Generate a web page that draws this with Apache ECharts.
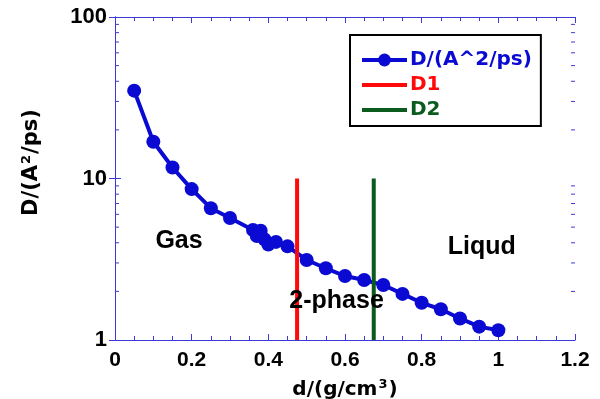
<!DOCTYPE html>
<html>
<head>
<meta charset="utf-8">
<script src="https://cdn.jsdelivr.net/npm/echarts@6/dist/echarts.min.js"></script>
<style>
  html, body { margin: 0; padding: 0; background: #fff; }
  #chart { width: 600px; height: 399px; }
</style>
</head>
<body>
<div id="chart"></div>
<script>
// Density (g/cm^3) and diffusion coefficient D (A^2/ps)
const density = [0.05, 0.10, 0.15, 0.20, 0.25, 0.30, 0.36, 0.37, 0.38, 0.39, 0.40, 0.42, 0.45,
                 0.50, 0.55, 0.60, 0.65, 0.70, 0.75, 0.80, 0.85, 0.90, 0.95, 1.00];
const diffusion = [35.0, 16.9, 11.7, 8.6, 6.55, 5.7, 4.8, 4.4, 4.75, 4.2, 3.9, 4.05, 3.8,
                   3.13, 2.78, 2.49, 2.35, 2.19, 1.93, 1.70, 1.55, 1.36, 1.21, 1.15];

// Phase boundaries
const d1X = 0.475;
const d2X = 0.675;
const boundaryRange = [1, 10];

// Region labels: [x, y, text]
const regionLabels = [
  [0.167, 4.1, 'Gas'],
  [0.957, 3.77, 'Liqud'],
  [0.578, 1.74, '2-phase']
];

const seriesNames = ['D/(A^2/ps)', 'D1', 'D2'];
const xTicks = { min: 0, max: 1.2, step: 0.2 };
const yTicks = { min: 1, max: 100 };
const yMinorTicks = [2, 3, 4, 5, 6, 7, 8, 9, 20, 30, 40, 50, 60, 70, 80, 90];

const BLUE = '#0a0ad2';
const RED = '#ff0a0a';
const GREEN = '#0b5a1e';
const AXIS = '#3a3ad8';
const LABEL_FONT = '"Liberation Sans", Arial, sans-serif';
const NAME_FONT = '"DejaVu Sans", sans-serif';

const chart = echarts.init(document.getElementById('chart'), null, { renderer: 'canvas' });

const xAxisBase = {
  type: 'value', min: xTicks.min, max: xTicks.max, interval: xTicks.step,
  axisLine: { show: true, lineStyle: { color: AXIS, width: 1 } },
  axisTick: { show: true, inside: true, length: 6, lineStyle: { color: AXIS } },
  minorTick: { show: true, splitNumber: 4, length: 4, lineStyle: { color: AXIS } },
  splitLine: { show: false }
};
const yAxisBase = {
  type: 'log', logBase: 10, min: yTicks.min, max: yTicks.max,
  axisLine: { show: true, lineStyle: { color: AXIS, width: 1 } },
  axisTick: { show: true, inside: true, length: 6, lineStyle: { color: AXIS } },
  splitLine: { show: false }
};

chart.setOption({
  animation: false,
  backgroundColor: '#fff',
  grid: { left: 115, right: 25, top: 17, bottom: 59, containLabel: false, outerBoundsMode: 'none' },
  legend: {
    orient: 'vertical', left: 350, top: 35,
    data: [
      { name: seriesNames[0], textStyle: { color: BLUE } },
      { name: seriesNames[1], itemStyle: { opacity: 0 }, textStyle: { color: RED } },
      { name: seriesNames[2], itemStyle: { opacity: 0 }, textStyle: { color: GREEN } }
    ],
    itemWidth: 45, itemHeight: 16, itemGap: 5,
    padding: [15, 9, 6, 10],
    borderColor: '#000', borderWidth: 2,
    lineStyle: { width: 4 },
    textStyle: { fontFamily: NAME_FONT, fontWeight: 'bold', fontSize: 20, lineHeight: 20, padding: [0, 0, 0, -2] }
  },
  xAxis: [
    Object.assign({}, xAxisBase, {
      position: 'bottom',
      axisLabel: { color: '#000', fontFamily: LABEL_FONT, fontWeight: 'bold', fontSize: 21, margin: 10 },
      name: '{b|d/(g/cm}{s|3}{b|)}',
      nameLocation: 'middle', nameGap: 38,
      nameTextStyle: {
        rich: {
          b: { fontFamily: NAME_FONT, fontWeight: 'bold', fontSize: 20, color: '#000' },
          s: { fontFamily: NAME_FONT, fontWeight: 'bold', fontSize: 13, color: '#000', padding: [0, 1, 10, 1] }
        }
      }
    }),
    Object.assign({}, xAxisBase, { position: 'top', axisLabel: { show: false } })
  ],
  yAxis: [
    Object.assign({}, yAxisBase, {
      position: 'left',
      axisLabel: { color: '#000', fontFamily: LABEL_FONT, fontWeight: 'bold', fontSize: 22, margin: 8 },
      name: '{b|D/(A}{s|2}{b|/ps)}',
      nameLocation: 'middle', nameGap: 72, nameRotate: 90,
      nameTextStyle: {
        padding: [0, 0, 0, 32],
        rich: {
          b: { fontFamily: NAME_FONT, fontWeight: 'bold', fontSize: 21, color: '#000' },
          s: { fontFamily: NAME_FONT, fontWeight: 'bold', fontSize: 13, color: '#000', padding: [0, 1, 10, 1] }
        }
      }
    }),
    Object.assign({}, yAxisBase, { position: 'right', axisLabel: { show: false } })
  ],
  series: [
    {
      name: seriesNames[0], type: 'line',
      data: density.map((x, i) => [x, diffusion[i]]),
      symbol: 'circle', symbolSize: 14,
      lineStyle: { color: BLUE, width: 4 },
      itemStyle: { color: BLUE },
      z: 2
    },
    {
      name: seriesNames[1], type: 'line', symbol: 'none',
      data: boundaryRange.map(v => [d1X, v]),
      lineStyle: { color: RED, width: 4 }, itemStyle: { color: RED }, z: 3
    },
    {
      name: seriesNames[2], type: 'line', symbol: 'none',
      data: boundaryRange.map(v => [d2X, v]),
      lineStyle: { color: GREEN, width: 4 }, itemStyle: { color: GREEN }, z: 3
    },
    {
      // Region names placed in data coordinates
      name: 'regions', type: 'scatter', symbolSize: 0, silent: true,
      itemStyle: { opacity: 1 },
      data: regionLabels.map(r => ({ value: [r[0], r[1]], name: r[2] })),
      label: {
        show: true, position: 'inside', formatter: p => p.name, opacity: 1,
        color: '#000', fontFamily: LABEL_FONT, fontWeight: 'bold', fontSize: 25
      },
      z: 4
    },
    {
      // Minor log ticks at 2..9 on left and right frames
      name: 'yMinor', type: 'custom', silent: true, clip: false,
      data: yMinorTicks,
      renderItem: (params, api) => {
        const v = api.value(0);
        const l = api.coord([xTicks.min, v]);
        const r = api.coord([xTicks.max, v]);
        const style = { stroke: AXIS, lineWidth: 1 };
        return {
          type: 'group',
          children: [
            { type: 'line', shape: { x1: l[0], y1: l[1], x2: l[0] + 4, y2: l[1] }, style },
            { type: 'line', shape: { x1: r[0], y1: r[1], x2: r[0] - 4, y2: r[1] }, style }
          ]
        };
      },
      encode: { y: 0 },
      z: 1
    }
  ]
});
</script>
</body>
</html>
